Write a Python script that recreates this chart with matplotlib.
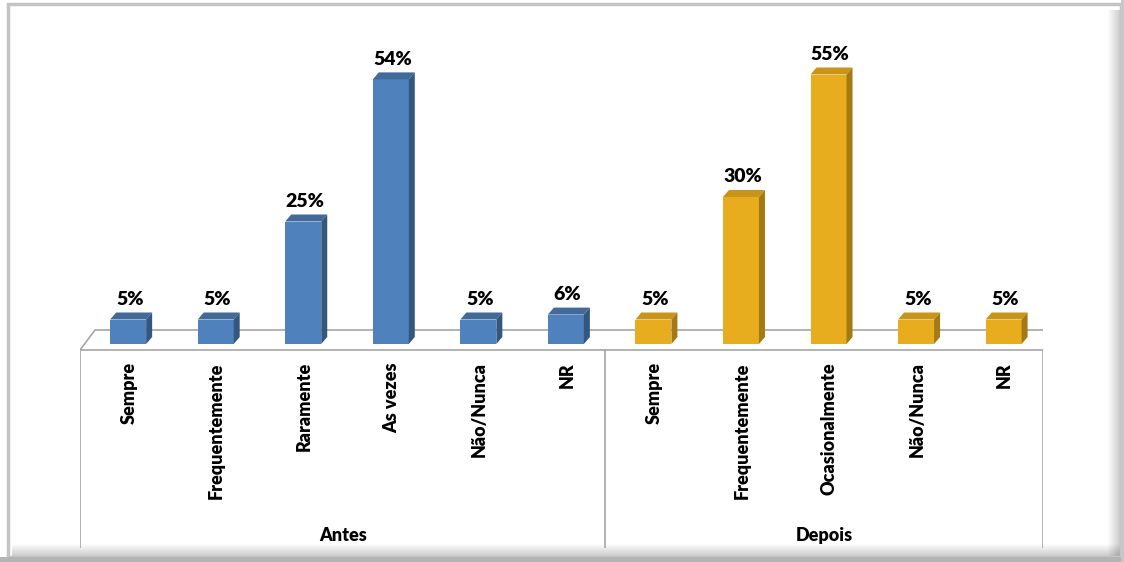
import numpy as np
import matplotlib.pyplot as plt
from matplotlib.patches import Polygon, Rectangle

plt.rcParams['font.family'] = ['Lato', 'DejaVu Sans']
plt.rcParams['font.weight'] = 'heavy'

categories = ["Sempre", "Frequentemente", "Raramente", "As vezes", "Não/Nunca", "NR",
              "Sempre", "Frequentemente", "Ocasionalmente", "Não/Nunca", "NR"]
antes = [5, 5, 25, 54, 5, 6]
depois = [5, 30, 55, 5, 5]
groups = ["Antes", "Depois"]

blue = ("#4F81BD", "#41699A", "#35577F")   # front, top, side
gold = ("#E8AD1E", "#C8951A", "#A47A14")

W, H = 1124, 562
fig = plt.figure(figsize=(W / 100, H / 100), dpi=100)

# frame with soft shadow on the right and bottom
bg = fig.add_axes([0, 0, 1, 1])
bg.set_xlim(0, W)
bg.set_ylim(H, 0)
bg.axis("off")
for k in range(12):
    a = 0.016 * (k + 1)
    bg.add_patch(Rectangle((1108 + k, 10), 1, 546, color="k", alpha=a, lw=0))
    bg.add_patch(Rectangle((12, 544 + k), 1108, 1, color="k", alpha=a, lw=0))
bg.add_patch(Rectangle((8, 4), 1113, 553, fill=False, ec="#C4C4C4", lw=2.5))
bg.add_patch(Rectangle((0, 557), W, 5, color="#B4B4B4", lw=0))
bg.add_patch(Rectangle((1121, 0), 3, H, color="#C8C8C8", lw=0))

# main axes: x = category index, y = percent
x0, x1 = 80, 1043
ytop, ybot, yzero = 20, 548, 344
ppu = 4.9
ax = fig.add_axes([x0 / W, (H - ybot) / H, (x1 - x0) / W, (ybot - ytop) / H])
ax.set_xlim(-0.55, 10.45)
ax.set_ylim(-(ybot - yzero) / ppu, (yzero - ytop) / ppu)
ax.axis("off")

xu = (x1 - x0) / 11.0
floor_front, floor_back = -6 / ppu, 14 / ppu
shift = 15 / xu
lo, hi = -0.55, 10.45
ax.add_patch(Polygon([(lo, floor_front), (hi, floor_front), (hi + shift, floor_back),
                      (lo + shift, floor_back)], closed=True, fc="white",
                     ec="#A6A6A6", lw=1.2, zorder=1))

# separators and group labels below the floor
for xv in (lo, 5.45, hi):
    ax.plot([xv, xv], [floor_front, ax.get_ylim()[0]], color="#A6A6A6", lw=1.2)
ax.text((lo + 5.45) / 2, -39.0, groups[0], ha="center", va="center", fontsize=13)
ax.text((5.45 + hi) / 2, -39.0, groups[1], ha="center", va="center", fontsize=13)

values = antes + depois
colors = [blue] * len(antes) + [gold] * len(depois)
w = 36 / xu
dx, dy = 6 / xu, 7 / ppu
for i, (v, c) in enumerate(zip(values, colors)):
    ax.bar(i, v, width=w, color=c[0], zorder=3)
    ax.add_patch(Polygon([(i - w / 2, v), (i + w / 2, v), (i + w / 2 + dx, v + dy),
                          (i - w / 2 + dx, v + dy)], closed=True, fc=c[1], lw=0, zorder=3))
    ax.add_patch(Polygon([(i + w / 2, 0), (i + w / 2 + dx, dy), (i + w / 2 + dx, v + dy),
                          (i + w / 2, v)], closed=True, fc=c[2], lw=0, zorder=3))
    ax.text(i + 0.02, v + dy + 1.6, f"{v}%", ha="center", va="baseline",
            fontsize=14, zorder=4)
    ax.text(i + 0.01, -3.7, categories[i], ha="center", va="top", rotation=90,
            fontsize=13)

fig.savefig("out.png", dpi=100)
